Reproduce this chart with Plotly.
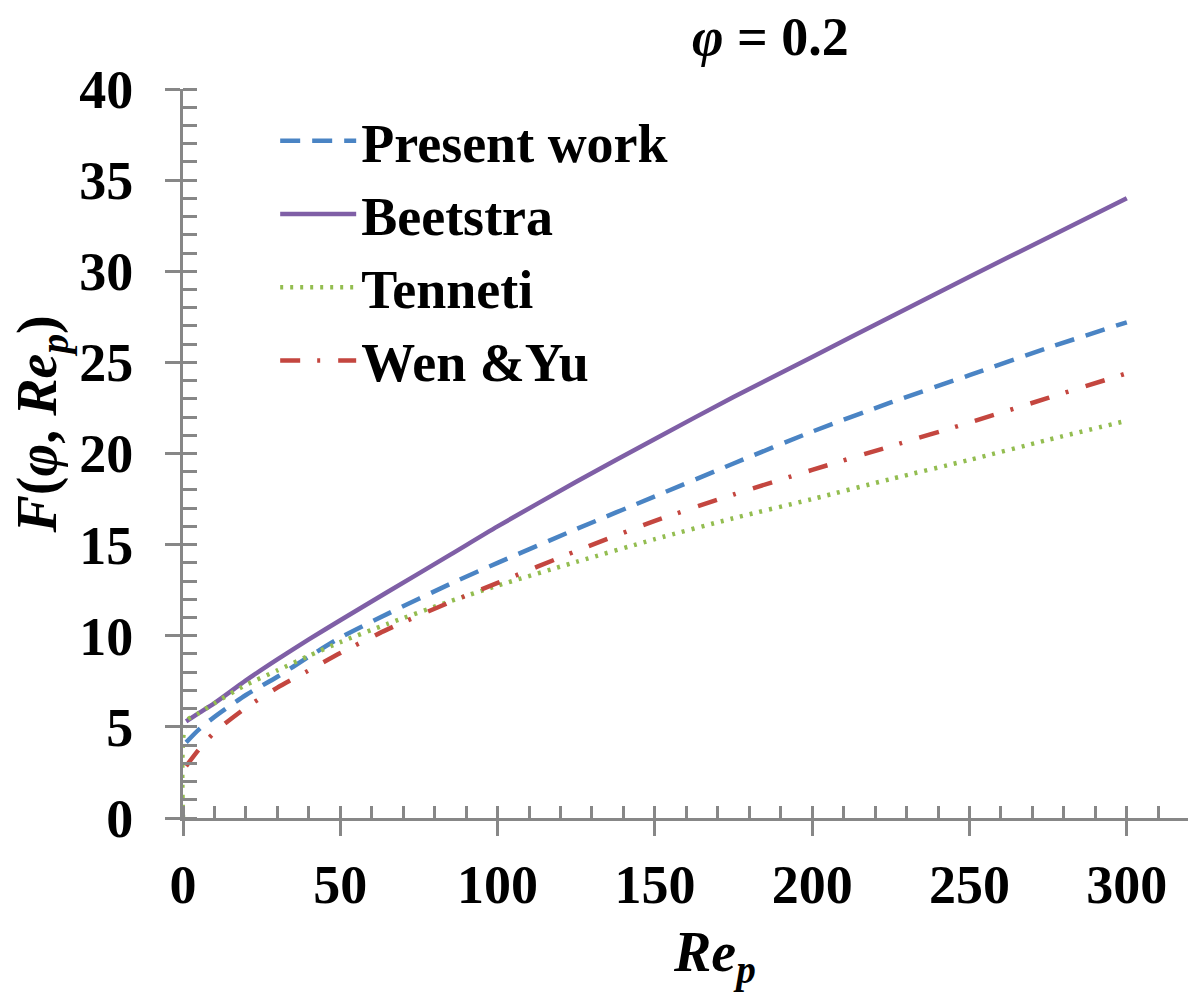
import plotly.graph_objects as go

# Drag function F(phi, Re_p) at phi = 0.2
re_p = [1, 5, 10, 20, 30, 40, 50, 65, 85, 100, 125, 150, 175, 200, 225, 250, 275, 300]
present_work = [4.15, 4.85, 5.55, 6.75, 7.75, 8.85, 9.9, 11.2, 12.85, 14.0, 15.85, 17.65, 19.45, 21.2, 22.8, 24.3, 25.8, 27.2]
beetstra = [5.3, 5.75, 6.3, 7.55, 8.7, 9.8, 10.85, 12.4, 14.45, 16.0, 18.45, 20.8, 23.1, 25.3, 27.5, 29.7, 31.85, 34.0]
wen_yu = [2.85, 3.75, 4.7, 6.05, 7.15, 8.1, 9.05, 10.35, 11.85, 12.9, 14.65, 16.3, 17.75, 19.1, 20.4, 21.7, 23.05, 24.4]

re_p_tenneti = [0, 1, 5, 10, 20, 30, 40, 50, 65, 85, 100, 125, 150, 175, 200, 225, 250, 275, 300]
tenneti = [0.0, 5.3, 5.75, 6.3, 7.3, 8.1, 8.9, 9.65, 10.65, 11.9, 12.75, 14.05, 15.3, 16.45, 17.5, 18.6, 19.65, 20.75, 21.8]

FONT = "Liberation Serif"
AXIS_GREY = "#878787"
SMOOTH = 0.7

fig = go.Figure()
fig.add_trace(go.Scatter(x=re_p, y=present_work, mode="lines", name="Present work",
                         line=dict(color="#4A84C4", width=4.5, dash="20px,12px",
                                   shape="spline", smoothing=SMOOTH)))
fig.add_trace(go.Scatter(x=re_p, y=beetstra, mode="lines", name="Beetstra",
                         line=dict(color="#7F5FA6", width=4.5, shape="spline", smoothing=SMOOTH)))
fig.add_trace(go.Scatter(x=re_p_tenneti, y=tenneti, mode="lines", name="Tenneti",
                         line=dict(color="#93BD50", width=4.5, dash="3px,7px",
                                   shape="spline", smoothing=SMOOTH)))
fig.add_trace(go.Scatter(x=re_p, y=wen_yu, mode="lines", name="Wen &Yu",
                         line=dict(color="#C4463F", width=4.5, dash="20px,17px,3px,18px",
                                   shape="spline", smoothing=SMOOTH)))

axis_common = dict(
    showgrid=False,
    zeroline=False,
    linecolor=AXIS_GREY,
    linewidth=3,
    tickcolor=AXIS_GREY,
    tickwidth=3,
    ticks="outside",
    ticklen=15,
    tickfont=dict(family=FONT, size=54, color="black", weight="bold"),
)

# the page body has an 8px margin, so the figure is sized 8px smaller
fig.update_layout(
    width=1188,
    height=994,
    margin=dict(l=175, r=0, t=81, b=184),
    paper_bgcolor="white",
    plot_bgcolor="white",
    font=dict(family=FONT, color="black"),
    xaxis=dict(
        range=[0, 322],
        dtick=50,
        tick0=0,
        ticklabelstandoff=2,
        minor=dict(dtick=10, ticks="inside", ticklen=12, tickwidth=3, tickcolor=AXIS_GREY),
        **axis_common,
    ),
    yaxis=dict(
        range=[0, 40],
        dtick=5,
        tick0=0,
        ticklabelstandoff=21,
        minor=dict(dtick=1, ticks="inside", ticklen=14, tickwidth=3, tickcolor=AXIS_GREY),
        **axis_common,
    ),
    # inside halves of the major ticks (the major ticks cross the axis line)
    xaxis2=dict(overlaying="x", anchor="y", matches="x", range=[0, 322], dtick=50, tick0=0,
                ticks="inside", ticklen=12, tickwidth=3, tickcolor=AXIS_GREY,
                showticklabels=False, showline=False, showgrid=False, zeroline=False),
    yaxis2=dict(overlaying="y", anchor="x", side="left", range=[0, 40], dtick=5, tick0=0,
                ticks="inside", ticklen=14, tickwidth=3, tickcolor=AXIS_GREY,
                showticklabels=False, showline=False, showgrid=False, zeroline=False),
    legend=dict(
        x=0.091,
        y=0.986,
        xanchor="left",
        yanchor="top",
        bgcolor="rgba(0,0,0,0)",
        font=dict(family=FONT, size=54, color="black", weight="bold"),
        itemwidth=76,
        tracegroupgap=0,
    ),
    showlegend=True,
)

fig.add_annotation(
    text="<i>φ</i> = 0.2",
    xref="paper", yref="paper", x=0.58, y=1.072,
    xanchor="center", yanchor="middle", showarrow=False,
    font=dict(family=FONT, size=54, color="black", weight="bold"),
)
fig.add_annotation(
    text="<i>Re<sub>p</sub></i>",
    xref="paper", yref="paper", x=0.525, y=-0.19,
    xanchor="center", yanchor="middle", showarrow=False,
    font=dict(family=FONT, size=56, color="black", weight="bold"),
)
fig.add_annotation(
    text="<i>F</i>(<i>φ</i>, <i>Re<sub>p</sub></i>)",
    xref="paper", yref="paper", x=-0.14, y=0.54,
    xanchor="center", yanchor="middle", textangle=-90, showarrow=False,
    font=dict(family=FONT, size=56, color="black", weight="bold"),
)

fig.write_html("out.html")
